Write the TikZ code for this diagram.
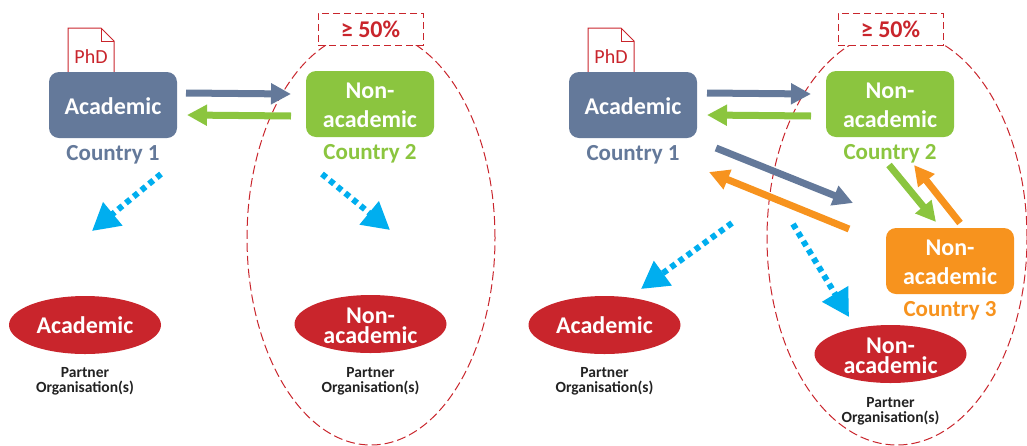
\documentclass[tikz,border=0pt]{standalone}
\usepackage{fontspec}
\setmainfont{Carlito}
\usetikzlibrary{arrows.meta,shapes.geometric}
\definecolor{cblue}{HTML}{64799A}
\definecolor{cgreen}{HTML}{8BC53F}
\definecolor{corange}{HTML}{F7931E}
\definecolor{cred}{HTML}{C9252C}
\definecolor{ccyan}{HTML}{00AEEF}
\definecolor{cdark}{HTML}{222222}
\newcommand\lowtop{\rule{0pt}{19pt}}
\tikzset{
  x=1pt,y=-1pt,
  orgbox/.style={rectangle,rounded corners=10pt,minimum width=128pt,minimum height=66pt,inner sep=0pt,text=white,align=center,font=\bfseries\fontsize{24}{29}\selectfont},
  partner/.style={ellipse,fill=cred,minimum width=152pt,minimum height=58pt,inner sep=0pt,text=white,align=center,font=\bfseries\fontsize{24}{20}\selectfont},
  clabel/.style={inner sep=0pt,font=\bfseries\fontsize{23}{28}\selectfont},
  plabel/.style={inner sep=0pt,align=center,text=cdark,font=\bfseries\fontsize{15.5}{15}\selectfont},
  quota/.style={rectangle,draw=cred,fill=white,line width=1pt,dash pattern=on 7pt off 4pt,minimum width=105pt,minimum height=32pt,inner sep=0pt,text=cred,font=\bfseries\fontsize{24}{28}\selectfont},
  group/.style={ellipse,draw=cred,line width=1pt,dash pattern=on 9pt off 4pt,inner sep=0pt},
  flow/.style={line width=7pt,-{Triangle[length=20pt,width=20pt]}},
  link/.style={line width=6pt,dash pattern=on 5.5pt off 4.5pt,draw=ccyan,-{Triangle[length=27pt,width=29pt,fill=ccyan]}},
  docsheet/.style={draw=cred,line width=1pt,line join=miter},
  doclabel/.style={inner sep=0pt,text=cred,font=\fontsize{20}{24}\selectfont},
}
\begin{document}
\begin{tikzpicture}
\useasboundingbox (0,0) rectangle (1027,445);
\begin{scope}
\clip (0,0) rectangle (1027,445);
% group ellipses
\node[group,minimum width=248pt,minimum height=414pt] (g1) at (371,238) {};
\node[group,minimum width=260pt,minimum height=414pt] (g2) at (897,238) {};
\end{scope}
\node[quota] (q1) at (370.5,29) {≥ 50\%};
\node[quota] (q2) at (890.5,29) {≥ 50\%};
% PhD documents
\draw[docsheet] (68,72) -- (68,28) -- (101,28) -- (114,41) -- (114,72);
\draw[docsheet] (101,28) -- (101,41) -- (114,41);
\node[doclabel] (phd1) at (91,57) {PhD};
\draw[docsheet] (588,72) -- (588,28) -- (621,28) -- (634,41) -- (634,72);
\draw[docsheet] (621,28) -- (621,41) -- (634,41);
\node[doclabel] (phd2) at (611,57) {PhD};
% left panel
\node[orgbox,fill=cblue] (a1) at (113,105) {\lowtop Academic};
\node[orgbox,fill=cgreen] (n1) at (370,104) {\lowtop Non-\\academic};
\node[clabel,text=cblue] (c11) at (113,155) {Country 1};
\node[clabel,text=cgreen] (c12) at (370,154) {Country 2};
\node[partner] (pa1) at (85,325) {Academic};
\node[partner] (pn1) at (370.5,324) {\lowtop Non-\\academic};
\node[plabel] (l11) at (85,381) {Partner\\Organisation(s)};
\node[plabel] (l12) at (370.5,381) {Partner\\Organisation(s)};
% right panel
\node[orgbox,fill=cblue] (a2) at (633,105) {\lowtop Academic};
\node[orgbox,fill=cgreen] (n2) at (890,104) {\lowtop Non-\\academic};
\node[orgbox,fill=corange] (n3) at (950,261) {\lowtop Non-\\academic};
\node[clabel,text=cblue] (c21) at (633,155) {Country 1};
\node[clabel,text=cgreen] (c22) at (890,154) {Country 2};
\node[clabel,text=corange] (c23) at (950,311) {Country 3};
\node[partner] (pa2) at (604.5,325) {Academic};
\node[partner] (pn2) at (890.5,354) {\lowtop Non-\\academic};
\node[plabel] (l21) at (604.5,381) {Partner\\Organisation(s)};
\node[plabel] (l22) at (890.5,411) {Partner\\Organisation(s)};
% arrow end points
\coordinate (s1) at (186,93); \coordinate (t1) at (291,94);
\coordinate (s2) at (291,116); \coordinate (t2) at (187,115);
\coordinate (s3) at (161,174); \coordinate (t3) at (92,231);
\coordinate (s4) at (322,174); \coordinate (t4) at (390,230);
\coordinate (s5) at (707,93); \coordinate (t5) at (811,94);
\coordinate (s6) at (811,116); \coordinate (t6) at (707,115);
\coordinate (s7) at (716,148); \coordinate (t7) at (853,203);
\coordinate (s8) at (849,229); \coordinate (t8) at (709,172);
\coordinate (s9) at (889,165); \coordinate (t9) at (936,222);
\coordinate (s10) at (960,223); \coordinate (t10) at (914,165);
\coordinate (s11) at (732,223); \coordinate (t11) at (641,289);
\coordinate (s12) at (793,224); \coordinate (t12) at (849,317);
% arrows
\draw[flow,draw=cblue] (s1) -- (t1);
\draw[flow,draw=cgreen] (s2) -- (t2);
\draw[link] (s3) -- (t3);
\draw[link] (s4) -- (t4);
\draw[flow,draw=cblue] (s5) -- (t5);
\draw[flow,draw=cgreen] (s6) -- (t6);
\draw[flow,draw=cblue] (s7) -- (t7);
\draw[flow,draw=corange] (s8) -- (t8);
\draw[flow,draw=cgreen] (s9) -- (t9);
\draw[flow,draw=corange] (s10) -- (t10);
\draw[link] (s11) -- (t11);
\draw[link] (s12) -- (t12);
\end{tikzpicture}
\end{document}
